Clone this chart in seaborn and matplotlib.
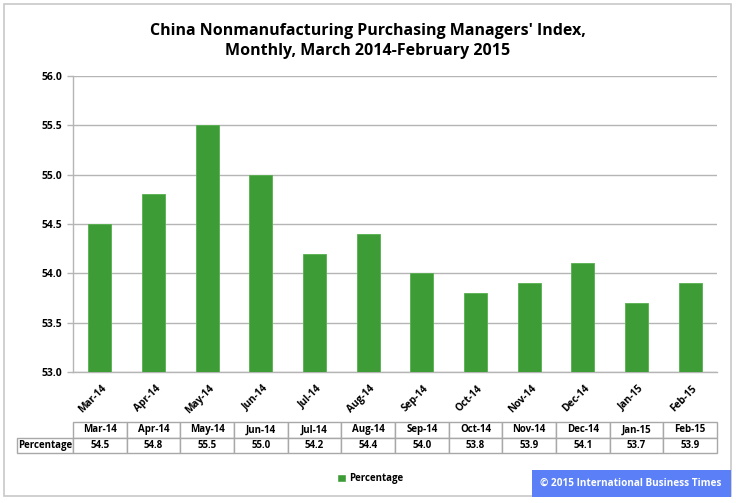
import matplotlib
matplotlib.use("Agg")
import matplotlib.pyplot as plt
from matplotlib.patches import Rectangle, Patch
import seaborn as sns
import pandas as pd
import numpy as np

months = ["Mar-14", "Apr-14", "May-14", "Jun-14", "Jul-14", "Aug-14",
          "Sep-14", "Oct-14", "Nov-14", "Dec-14", "Jan-15", "Feb-15"]
values = [54.5, 54.8, 55.5, 55.0, 54.2, 54.4, 54.0, 53.8, 53.9, 54.1, 53.7, 53.9]
series_name = "Percentage"
yticks = [53.0, 53.5, 54.0, 54.5, 55.0, 55.5, 56.0]
title = "China Nonmanufacturing Purchasing Managers' Index,\nMonthly, March 2014-February 2015"
credit = "\u00a9 2015 International Business Times"

sns.set_theme(style="white")
plt.rcParams['font.family'] = ['Open Sans', 'DejaVu Sans']
plt.rcParams['text.color'] = 'black'
plt.rcParams['xtick.labelcolor'] = 'black'
plt.rcParams['ytick.labelcolor'] = 'black'

W, H = 736, 503
fig = plt.figure(figsize=(W / 100, H / 100), dpi=100)

def fx(px):
    return px / W

def fy(py):
    return 1 - py / H

ax_l, ax_r, ax_t, ax_b = 73, 717, 76, 372
ax = fig.add_axes([fx(ax_l), fy(ax_b), fx(ax_r - ax_l), (ax_b - ax_t) / H])

df = pd.DataFrame({"Month": months, series_name: values})
bar_color = "#3E9C37"
sns.barplot(data=df, x="Month", y=series_name, color=bar_color, width=0.43,
            saturation=1, ax=ax, edgecolor="#57b04f", linewidth=0.6, zorder=3)

ax.set_ylim(53.0, 56.0)
ax.set_xlim(-0.5, len(months) - 0.5)
ax.set_yticks(yticks)
ax.set_yticklabels([f"{v:.1f}" for v in yticks], fontsize=7.5, fontweight="bold")
ax.set_xticks(range(len(months)))
ax.set_xticklabels(months, fontsize=7.3, fontweight="bold", rotation=45,
                   ha="right", rotation_mode="anchor")
ax.set_xlabel("")
ax.set_ylabel("")
ax.grid(axis="y", color="#b5b5b5", linewidth=1, zorder=0)
ax.set_axisbelow(True)
for s in ["top", "right"]:
    ax.spines[s].set_visible(False)
for s in ["left", "bottom"]:
    ax.spines[s].set_color("#b5b5b5")
    ax.spines[s].set_linewidth(1)
ax.tick_params(axis="x", which="major", length=0, pad=8, labelcolor="black")
ax.set_xticks(np.arange(-0.5, len(months), 1.0), minor=True)
ax.tick_params(axis="x", which="minor", length=4, color="#b5b5b5", width=1)
ax.tick_params(axis="y", which="major", length=4, color="#b5b5b5", width=1,
               left=True, pad=4, labelcolor="black")
for lbl in ax.get_xticklabels():
    lbl.set_transform(lbl.get_transform() + matplotlib.transforms.ScaledTranslation(1 / 72, 0, fig.dpi_scale_trans))

# Data table
cell_text = [[""] + months, [series_name] + [f"{v:.1f}" for v in values]]
first_w = 56
col_w = (ax_r - ax_l) / len(months)
widths = [first_w] + [col_w] * len(months)
tot = sum(widths)
tb_top, tb_bot = 422, 453
tbl = ax.table(cellText=cell_text, colWidths=[w / tot for w in widths],
               cellLoc="center",
               bbox=[(17 - ax_l) / (ax_r - ax_l), (ax_b - tb_bot) / (ax_b - ax_t),
                     (ax_r - 17) / (ax_r - ax_l), (tb_bot - tb_top) / (ax_b - ax_t)])
tbl.auto_set_font_size(False)
for (r, c), cell in tbl.get_celld().items():
    cell.set_edgecolor("#a8a8a8")
    cell.set_linewidth(1)
    cell.get_text().set_fontsize(7)
    cell.get_text().set_fontweight("bold")
    cell.get_text().set_color("black")
    if r == 0 and c == 0:
        cell.visible_edges = "open"

# Title
fig.text(0.5, fy(41), title, ha="center", va="center", fontsize=11.5,
         fontweight="bold", linespacing=1.35, color="black")

# Legend
fig.legend(handles=[Patch(facecolor=bar_color, label=series_name)],
           loc="center", bbox_to_anchor=(fx(370), fy(479)), frameon=False,
           prop={"size": 7, "weight": "bold"}, handlelength=0.95,
           handleheight=0.95, handletextpad=0.35, labelcolor="black")

# Border
fig.patches.append(Rectangle((fx(4), fy(496)), fx(727), (496 - 4) / H,
                             transform=fig.transFigure, fill=False,
                             edgecolor="#c8c8c8", linewidth=1.2, zorder=0))

# Credit box
fig.patches.append(Rectangle((fx(532), fy(497)), fx(199), 27 / H,
                             transform=fig.transFigure, facecolor="#5B7FF6",
                             edgecolor="none", zorder=5))
fig.text(fx(631), fy(483.5), credit, ha="center", va="center", color="white",
         fontsize=7.2, fontweight="bold", zorder=6)

fig.savefig("out.png", dpi=100)
